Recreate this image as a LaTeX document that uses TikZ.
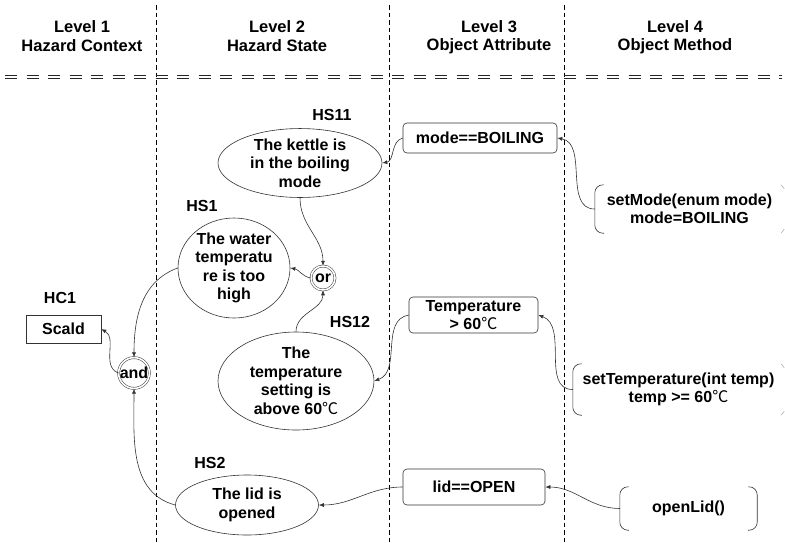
\documentclass[tikz,border=0pt]{standalone}
\usepackage{fontspec}
\setmainfont{Liberation Sans}
\newfontfamily\cjk{Noto Sans CJK SC}
\usetikzlibrary{shapes.geometric,arrows.meta,calc}
\newcommand{\degc}{{\cjk\mdseries ℃}}
\tikzset{
  every node/.style={font=\fontsize{16}{18.5}\selectfont\bfseries, text=black},
  hs/.style={ellipse, draw=black!80, line width=0.6pt, inner sep=0pt, align=center},
  attr/.style={draw=black!80, line width=0.6pt, rounded corners=4pt, align=center, inner sep=0pt},
  gate/.style={circle, draw=black!80, line width=0.5pt, double, double distance=1.6pt, inner sep=0pt},
  meth/.style={inner sep=0pt, align=center},
  conn/.style={draw=black!80, line width=0.6pt, -{Latex[length=5pt,width=4pt]}},
  vdash/.style={draw=black, line width=0.9pt, dash pattern=on 4.5pt off 3pt},
  hdash/.style={draw=black!85, line width=0.8pt, dash pattern=on 12pt off 9.5pt},
  brk/.style={draw=black!80, line width=0.6pt, rounded corners=8pt},
  faint/.style={draw=black!35, line width=0.5pt, rounded corners=8pt},
  lbl/.style={inner sep=0pt},
  head/.style={inner sep=0pt, font=\fontsize{16.5}{18.5}\selectfont\bfseries}
}
\begin{document}
\begin{tikzpicture}[x=1pt,y=1pt]
\useasboundingbox (0,0) rectangle (785,-542);
% column dividers
\draw[vdash] (156,-5) -- (156,-542);
\draw[vdash] (389,-5) -- (389,-542);
\draw[vdash] (564,-5) -- (564,-542);
\draw[hdash] (5,-75) -- (782,-75);
\draw[hdash] (5,-78.5) -- (782,-78.5);
% headers
\node[head] (h1a) at (82,-27) {Level 1};
\node[head] (h1b) at (82,-46) {Hazard Context};
\node[head] (h2a) at (277,-27) {Level 2};
\node[head] (h2b) at (277,-46) {Hazard State};
\node[head] (h3a) at (489,-27) {Level 3};
\node[head] (h3b) at (489,-46) {Object Attribute};
\node[head] (h4a) at (675,-27) {Level 4};
\node[head] (h4b) at (675,-46) {Object Method};
% level 2
\node[hs, minimum width=164pt, minimum height=66pt] (hs11) at (300,-163) {The kettle is\\in the boiling\\mode};
\node[lbl] (hs11l) at (332,-115) {HS11};
\node[hs, minimum width=112pt, minimum height=100pt] (hs1) at (234,-268) {The water\\temperatu\\re is too\\high};
\node[lbl] (hs1l) at (202,-206) {HS1};
\node[gate, minimum size=24pt] (or) at (323,-278) {or};
\node[hs, minimum width=156pt, minimum height=98pt] (hs12) at (296,-381) {The\\temperature\\setting is\\above 60\degc};
\node[lbl] (hs12l) at (350,-322) {HS12};
\node[hs, minimum width=143pt, minimum height=60pt] (hs2) at (247,-505) {The lid is\\opened};
\node[lbl] (hs2l) at (210,-463) {HS2};
% level 1
\node[gate, minimum size=30pt] (and) at (134,-373) {and};
\node[draw=black!80, line width=0.6pt, minimum width=75pt, minimum height=28pt, inner sep=0pt] (scald) at (63.5,-329) {Scald};
\node[lbl] (hc1l) at (60,-298) {HC1};
% level 3
\node[attr, minimum width=154pt, minimum height=30pt] (mode) at (480,-138) {mode==BOILING};
\node[attr, minimum width=129pt, minimum height=36pt] (temp) at (473.5,-315) {Temperature\\> 60\degc};
\node[attr, minimum width=142pt, minimum height=36pt] (lid) at (474,-487) {lid==OPEN};
% level 4
\node[meth, minimum width=189pt, minimum height=48pt] (setmode) at (689.5,-209) {setMode(enum mode)\\mode=BOILING};
\node[meth, minimum width=211pt, minimum height=51pt] (settemp) at (678.5,-389.5) {setTemperature(int temp)\\temp >= 60\degc};
\node[meth, minimum width=137pt, minimum height=43pt] (openlid) at (688.5,-508.5) {openLid()};
% brackets
\foreach \n in {setmode,settemp,openlid}{
  \draw[brk] ([xshift=9pt]\n.north west) -- (\n.north west) -- (\n.south west) -- ([xshift=9pt]\n.south west);
}
\draw[brk] ([xshift=-9pt]openlid.north east) -- (openlid.north east) -- (openlid.south east) -- ([xshift=-9pt]openlid.south east);
\foreach \n in {setmode,settemp}{
  \draw[faint] ([xshift=-3pt]\n.north east) -- ([yshift=-4pt]\n.north east);
  \draw[faint] ([yshift=4pt]\n.south east) -- ([xshift=-3pt]\n.south east);
}
% connectors
\draw[conn] (mode.west) to[out=195,in=10] (hs11.east);
\draw[conn] (setmode.west) to[out=180,in=-10] (mode.east);
\draw[conn] (hs11.south) to[out=-90,in=90] (or.north);
\draw[conn] (hs12.north) to[out=90,in=-90] (or.south);
\draw[conn] (or.west) to[out=170,in=-10] (hs1.east);
\draw[conn] (temp.west) to[out=190,in=20] (hs12.east);
\draw[conn] (settemp.west) to[out=180,in=-20] (temp.east);
\draw[conn] (hs1.west) to[out=200,in=90] (and.north);
\draw[conn] (hs2.west) to[out=165,in=-90] (and.south);
\draw[conn] (and.west) to[out=160,in=-30] (scald.east);
\draw[conn] (lid.west) to[out=180,in=0] (hs2.east);
\draw[conn] (openlid.west) to[out=180,in=0] (lid.east);
\end{tikzpicture}
\end{document}
